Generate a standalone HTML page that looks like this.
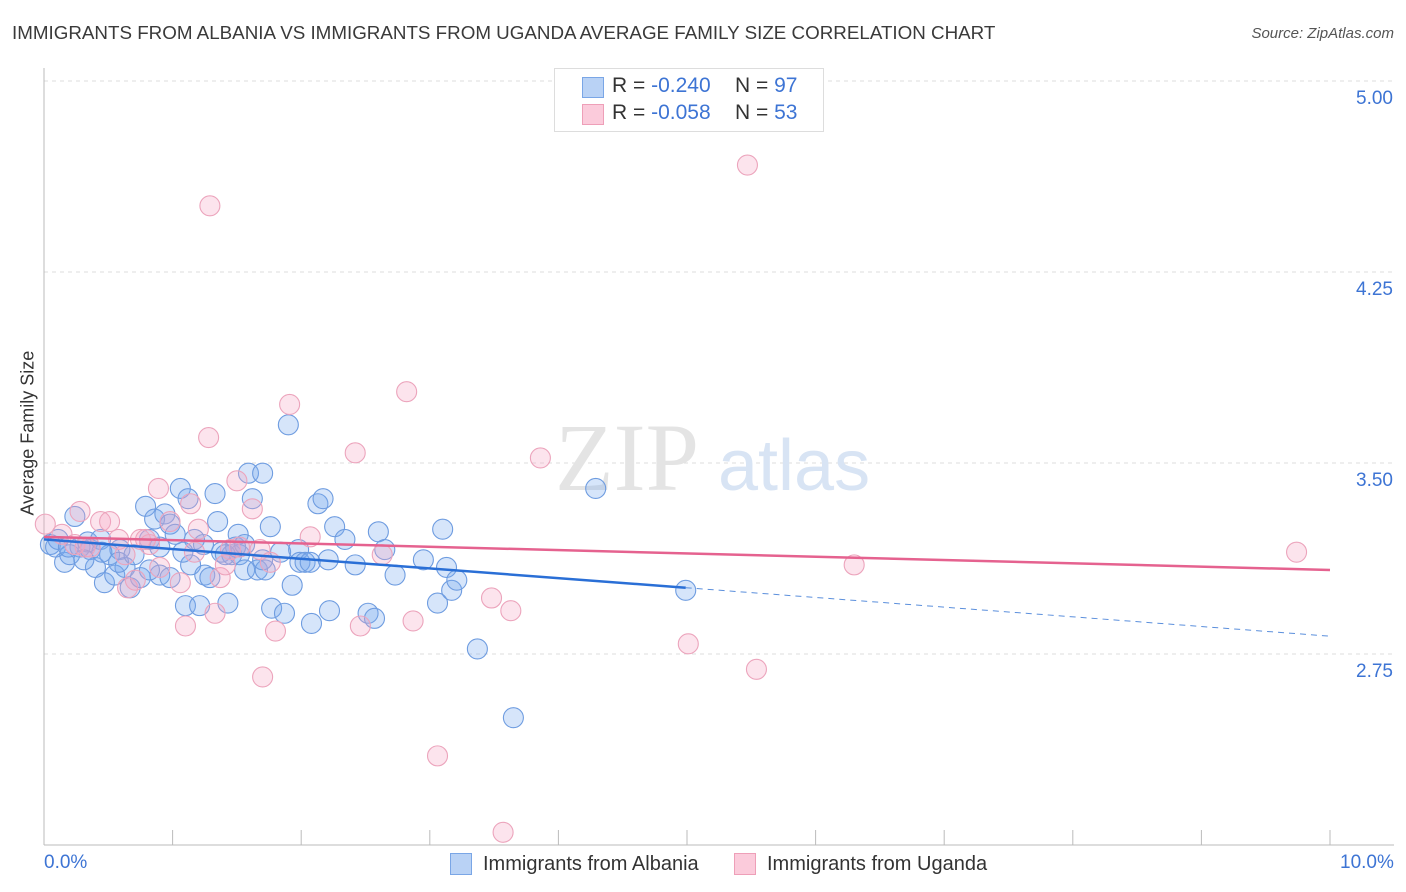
<!DOCTYPE html>
<html><head><meta charset="utf-8"><style>
body{margin:0;background:#fff;font-family:"Liberation Sans",sans-serif;}
#wrap{position:relative;width:1406px;height:892px;overflow:hidden;}
.t{position:absolute;white-space:nowrap;}
</style></head><body>
<div id="wrap">
<div class="t" style="left:12px;top:22px;font-size:18.8px;color:#3a3a3a;">IMMIGRANTS FROM ALBANIA VS IMMIGRANTS FROM UGANDA AVERAGE FAMILY SIZE CORRELATION CHART</div>
<div class="t" style="right:12px;top:25px;font-size:15px;color:#555;font-style:italic;">Source: ZipAtlas.com</div>
<svg id="svg" width="1406" height="892" style="position:absolute;left:0;top:0"></svg>
</div>
<script>
const yTicks=[5.00,4.25,3.50,2.75];
const yTickLabels=["5.00","4.25","3.50","2.75"];
const xTickVals=[0,1,2,3,4,5,6,7,8,9,10];
const albaniaX=[.05,.09,.16,.24,.20,.28,.34,.36,.40,.44,.47,.51,.55,.59,.63,.67,.75,.79,.82,.86,.90,.94,.98,1.02,1.06,1.10,1.12,1.14,1.17,1.21,1.25,1.29,1.33,1.35,1.38,1.43,1.46,1.51,1.52,1.56,1.59,1.62,1.66,1.70,1.72,1.76,1.77,1.84,1.87,1.90,1.93,1.98,1.99,2.03,2.07,2.08,2.13,2.17,2.21,2.22,2.26,2.34,2.42,2.52,2.57,2.60,2.65,2.73,2.95,3.06,3.10,3.13,3.17,3.21,3.37,3.65,4.29,4.99,.11,.19,.31,.45,.58,.70,.82,.98,1.08,.90,1.24,1.49,1.56,1.41,1.70];
const albaniaY=[3.18,3.17,3.11,3.29,3.14,3.17,3.19,3.16,3.09,3.20,3.03,3.14,3.06,3.16,3.09,3.01,3.05,3.33,3.20,3.28,3.06,3.30,3.26,3.22,3.40,2.94,3.36,3.10,3.20,2.94,3.06,3.05,3.38,3.27,3.15,2.95,3.14,3.22,3.14,3.08,3.46,3.36,3.08,3.46,3.08,3.25,2.93,3.15,2.91,3.65,3.02,3.16,3.11,3.11,3.11,2.87,3.34,3.36,3.12,2.92,3.25,3.20,3.10,2.91,2.89,3.23,3.16,3.06,3.12,2.95,3.24,3.09,3.00,3.04,2.77,2.50,3.40,3.00,3.20,3.17,3.12,3.15,3.11,3.14,3.08,3.05,3.15,3.17,3.18,3.17,3.18,3.14,3.12];
const ugandaX=[.01,.14,.24,.28,.32,.44,.51,.58,.65,.71,.75,.82,.89,.90,.98,1.06,1.10,1.14,1.20,1.28,1.29,1.33,1.37,1.41,1.50,1.62,1.68,1.70,1.76,1.80,1.91,2.07,2.46,2.42,2.63,2.82,2.87,3.06,3.48,3.57,3.63,3.86,5.01,5.47,5.54,6.30,9.74,.36,.63,.79,1.17,1.45,1.52];
const ugandaY=[3.26,3.22,3.18,3.31,3.17,3.27,3.27,3.20,3.01,3.04,3.20,3.18,3.40,3.09,3.27,3.03,2.86,3.34,3.24,3.60,4.51,2.91,3.05,3.10,3.43,3.32,3.16,2.66,3.11,2.84,3.73,3.21,2.86,3.54,3.14,3.78,2.88,2.35,2.97,2.05,2.92,3.52,2.79,4.67,2.69,3.10,3.15,3.17,3.14,3.20,3.15,3.16,3.17];
const albaniaTrend=[3.20,2.82]; // y at 0% and 10%
const ugandaTrend=[3.21,3.08];
const X0=44,X1=1330,Y5=81,PXU=254.67;
const xs=v=>X0+(X1-X0)*v/10;
const ys=v=>Y5+(5-v)*PXU;
const NS="http://www.w3.org/2000/svg";
const svg=document.getElementById('svg');
function mk(tag,attrs,parent){const e=document.createElementNS(NS,tag);for(const k in attrs)e.setAttribute(k,attrs[k]);(parent||svg).appendChild(e);return e;}
yTicks.forEach((v,i)=>{
 const g=mk('line',{x1:X0,x2:1394,y1:ys(v),y2:ys(v),stroke:'#ddd','stroke-dasharray':'4,4'});
 
 
 const t=mk('text',{x:1393,y:ys(v)+23,'text-anchor':'end','font-size':'19','fill':'#3d74d4','font-family':'Liberation Sans'});
 t.textContent=yTickLabels[i];
 
 
});
const ax=mk('line',{x1:X0,x2:X0,y1:68,y2:845,stroke:'#bbb'});


const bx=mk('line',{x1:X0,x2:1394,y1:845,y2:845,stroke:'#bbb'});


xTickVals.forEach(v=>{
 const l=mk('line',{x1:xs(v),x2:xs(v),y1:830,y2:845,stroke:'#bbb'});
 
 
});
const wm=mk('text',{x:555,y:490,'font-size':'96','fill':'#e4e4e4','font-family':'Liberation Serif'});wm.textContent='ZIP';


const wm2=mk('text',{x:718,y:490,'font-size':'72','fill':'#d8e4f4','font-family':'Liberation Sans'});wm2.textContent='atlas';


albaniaX.forEach((x,i)=>{
 const c=mk('circle',{cx:xs(x),cy:ys(albaniaY[i]),r:10,fill:'rgba(120,168,238,0.3)',stroke:'#6e9ce0','stroke-width':'1.1'});
 
 
});
ugandaX.forEach((x,i)=>{
 const c=mk('circle',{cx:xs(x),cy:ys(ugandaY[i]),r:10,fill:'rgba(245,165,195,0.3)',stroke:'#eca4bc','stroke-width':'1.1'});
 
 
});
const bEnd=4.99, bEndY=albaniaTrend[0]+(albaniaTrend[1]-albaniaTrend[0])*bEnd/10;
const t1=mk('line',{x1:xs(0),y1:ys(albaniaTrend[0]),x2:xs(bEnd),y2:ys(bEndY),stroke:'#2a6fd6','stroke-width':'2.5'});


const t2=mk('line',{x1:xs(bEnd),y1:ys(bEndY),x2:xs(10),y2:ys(albaniaTrend[1]),stroke:'#5b8fdc','stroke-width':'1','stroke-dasharray':'6,5'});


const t3=mk('line',{x1:xs(0),y1:ys(ugandaTrend[0]),x2:xs(10),y2:ys(ugandaTrend[1]),stroke:'#e5628f','stroke-width':'2.5'});


</script>
<div class="t" style="left:-32px;top:445px;font-size:18px;color:#333;transform:rotate(-90deg);width:120px;text-align:center;">Average Family Size</div>
<div class="t" style="left:44px;top:852px;font-size:19px;color:#3d74d4;">0.0%</div>
<div class="t" style="left:1340px;top:852px;font-size:19px;color:#3d74d4;">10.0%</div>
<div style="position:absolute;left:554px;top:68px;width:268px;height:62px;border:1px solid #ddd;background:#fff;font-size:21px;">
 <div style="position:absolute;left:27px;top:8px;width:20px;height:19px;background:#b9d2f5;border:1px solid #7aa6e6;"></div>
 <div class="t" style="left:57px;top:5px;color:#333;">R = <span style="color:#3d74d4">-0.240</span></div>
 <div class="t" style="left:180px;top:5px;color:#333;">N = <span style="color:#3d74d4">97</span></div>
 <div style="position:absolute;left:27px;top:35px;width:20px;height:19px;background:#fbcbdb;border:1px solid #ee9fb8;"></div>
 <div class="t" style="left:57px;top:32px;color:#333;">R = <span style="color:#3d74d4">-0.058</span></div>
 <div class="t" style="left:180px;top:32px;color:#333;">N = <span style="color:#3d74d4">53</span></div>
</div>
<div style="position:absolute;left:450px;top:853px;font-size:20px;color:#333;">
 <div style="position:absolute;left:0;top:0;width:20px;height:20px;background:#b9d2f5;border:1px solid #7aa6e6;"></div>
 <div class="t" style="left:33px;top:0;">Immigrants from Albania</div>
</div>
<div style="position:absolute;left:734px;top:853px;font-size:20px;color:#333;">
 <div style="position:absolute;left:0;top:0;width:20px;height:20px;background:#fbcbdb;border:1px solid #ee9fb8;"></div>
 <div class="t" style="left:33px;top:0;">Immigrants from Uganda</div>
</div>
</body></html>
